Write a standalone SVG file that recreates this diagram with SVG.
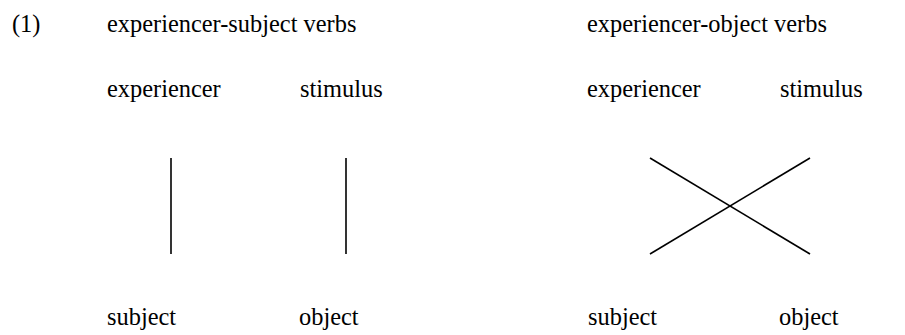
<svg xmlns="http://www.w3.org/2000/svg" width="905" height="335" viewBox="0 0 905 335">
<style>
text{font-size:24.4px;fill:#000}
.ln{stroke:#000;stroke-width:1.6;fill:none}
</style>
<rect width="905" height="335" fill="#fff"/>
<g font-family="'Liberation Serif', 'DejaVu Serif', serif">
<g id="labels">
<text x="12" y="32">(1)</text>
<text x="107" y="32">experiencer-subject verbs</text>
<text x="587" y="32">experiencer-object verbs</text>
</g>
<g id="n-es-exp"><text x="107" y="97">experiencer</text></g>
<g id="n-es-stim"><text x="300" y="97">stimulus</text></g>
<g id="n-es-subj"><text x="107" y="325">subject</text></g>
<g id="n-es-obj"><text x="299" y="325">object</text></g>
<g id="n-eo-exp"><text x="587" y="97">experiencer</text></g>
<g id="n-eo-stim"><text x="780" y="97">stimulus</text></g>
<g id="n-eo-subj"><text x="588" y="325">subject</text></g>
<g id="n-eo-obj"><text x="779" y="325">object</text></g>
</g>
<g id="connectors">
<line class="ln" x1="171" y1="158" x2="171" y2="254"/>
<line class="ln" x1="346" y1="158" x2="346" y2="254"/>
<line class="ln" x1="650" y1="158" x2="810" y2="254"/>
<line class="ln" x1="650" y1="254" x2="810" y2="158"/>
</g>
</svg>
